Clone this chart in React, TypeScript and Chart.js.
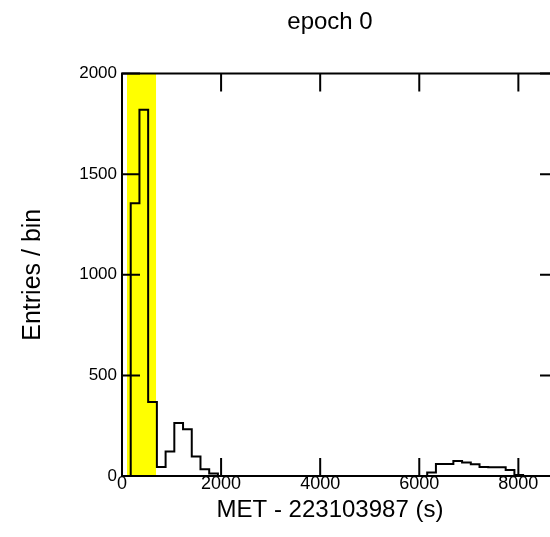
import React, { useEffect, useRef } from "react";
import { Chart, registerables } from "chart.js";

Chart.register(...registerables);

// Histogram definition: 50 bins from 0 to 8800 s
const xMin = 0;
const xMax = 8800;
const binWidth = 176;
const entries = [
  0, 1355, 1820, 368, 45, 122, 263, 232, 97, 33,
  12, 0, 0, 0, 0, 0, 0, 0, 0, 0,
  0, 0, 0, 0, 0, 0, 0, 0, 0, 0,
  0, 0, 0, 0, 0, 18, 60, 60, 75, 67,
  58, 45, 43, 43, 30, 5, 0, 0, 0, 0,
];
// highlighted interval (yellow band)
const bandStart = 100;
const bandEnd = 690;

const yMin = 0;
const yMax = 2000;
const xTicks = [0, 2000, 4000, 6000, 8000];
const yTicks = [0, 500, 1000, 1500, 2000];

const titleText = "epoch 0";
const xTitle = "MET - 223103987 (s)";
const yTitle = "Entries / bin";

const FONT = "'Liberation Sans', Arial, Helvetica, sans-serif";

const frameTicks = {
  id: "frameTicks",
  afterDraw(chart: any) {
    const { ctx, chartArea: a, scales } = chart;
    const len = 18;
    ctx.save();
    ctx.strokeStyle = "#000";
    ctx.lineWidth = 2;
    ctx.beginPath();
    for (const t of scales.x.ticks) {
      const px = scales.x.getPixelForValue(t.value);
      ctx.moveTo(px, a.bottom);
      ctx.lineTo(px, a.bottom - len);
      ctx.moveTo(px, a.top);
      ctx.lineTo(px, a.top + len);
    }
    for (const t of scales.y.ticks) {
      const py = scales.y.getPixelForValue(t.value);
      ctx.moveTo(a.left, py);
      ctx.lineTo(a.left + len, py);
      ctx.moveTo(a.right, py);
      ctx.lineTo(a.right - len, py);
    }
    ctx.stroke();
    ctx.strokeRect(a.left, a.top, a.right - a.left, a.bottom - a.top);
    ctx.restore();
  },
};

export default function App() {
  const ref = useRef<HTMLCanvasElement | null>(null);

  useEffect(() => {
    if (!ref.current) return;
    Chart.defaults.color = "#000";
    Chart.defaults.font.family = FONT;

    const histPoints: { x: number; y: number }[] = [];
    entries.forEach((c, i) => {
      histPoints.push({ x: xMin + i * binWidth, y: c });
      histPoints.push({ x: xMin + (i + 1) * binWidth, y: c });
    });

    const chart = new Chart(ref.current, {
      type: "line",
      data: {
        datasets: [
          {
            data: histPoints,
            borderColor: "#000",
            borderWidth: 2,
            pointRadius: 0,
            fill: false,
            tension: 0,
            order: 1,
          },
          {
            data: [
              { x: bandStart, y: yMax },
              { x: bandEnd, y: yMax },
            ],
            borderWidth: 0,
            borderColor: "rgba(0,0,0,0)",
            backgroundColor: "#ffff00",
            pointRadius: 0,
            fill: "origin",
            order: 2,
          },
        ],
      },
      options: {
        responsive: false,
        animation: false,
        devicePixelRatio: 1,
        layout: { padding: 0 },
        plugins: {
          legend: { display: false },
          tooltip: { enabled: false },
          title: {
            display: true,
            text: titleText,
            font: { size: 24, weight: "normal", family: FONT },
            color: "#000",
            padding: { top: 0, bottom: 36.7 },
          },
          subtitle: {
            display: true,
            position: "bottom",
            text: xTitle,
            font: { size: 24, weight: "normal", family: FONT },
            color: "#000",
            padding: { top: 0, bottom: 4.6 },
          },
        },
        scales: {
          x: {
            type: "linear",
            min: xMin,
            max: xMax,
            grid: { display: false, drawTicks: false },
            border: { display: false },
            afterBuildTicks: (s: any) => {
              s.ticks = xTicks.map((v) => ({ value: v }));
            },
            ticks: {
              maxRotation: 0,
              autoSkip: false,
              padding: -3,
              font: { size: 18, family: FONT },
              color: "#000",
              callback: (v: any) => String(v),
            },
            afterFit: (s: any) => {
              s.height = 19.6;
            },
          },
          y: {
            type: "linear",
            min: yMin,
            max: yMax,
            grid: { display: false, drawTicks: false },
            border: { display: false },
            afterBuildTicks: (s: any) => {
              s.ticks = yTicks.map((v) => ({ value: v }));
            },
            ticks: {
              autoSkip: false,
              padding: 5,
              font: { size: 17, family: FONT },
              color: "#000",
              callback: (v: any) => String(v),
            },
            title: {
              display: true,
              text: yTitle,
              font: { size: 25, family: FONT },
              color: "#000",
              padding: { top: 10, bottom: 0 },
            },
            afterFit: (s: any) => {
              s.width = 114;
            },
          },
          yR: {
            type: "linear",
            position: "right",
            min: yMin,
            max: yMax,
            grid: { display: false, drawTicks: false },
            border: { display: false },
            ticks: { display: false },
            afterFit: (s: any) => {
              s.width = 94;
            },
          },
        },
      },
      plugins: [frameTicks],
    } as any);

    return () => chart.destroy();
  }, []);

  return (
    <div
      style={{
        position: "absolute",
        left: 0,
        top: 0,
        width: "550px",
        height: "537px",
        overflow: "hidden",
      }}
    >
      <canvas
        ref={ref}
        width={644}
        height={521}
        style={{ display: "block", marginLeft: "8px", marginTop: "8px" }}
      />
    </div>
  );
}
